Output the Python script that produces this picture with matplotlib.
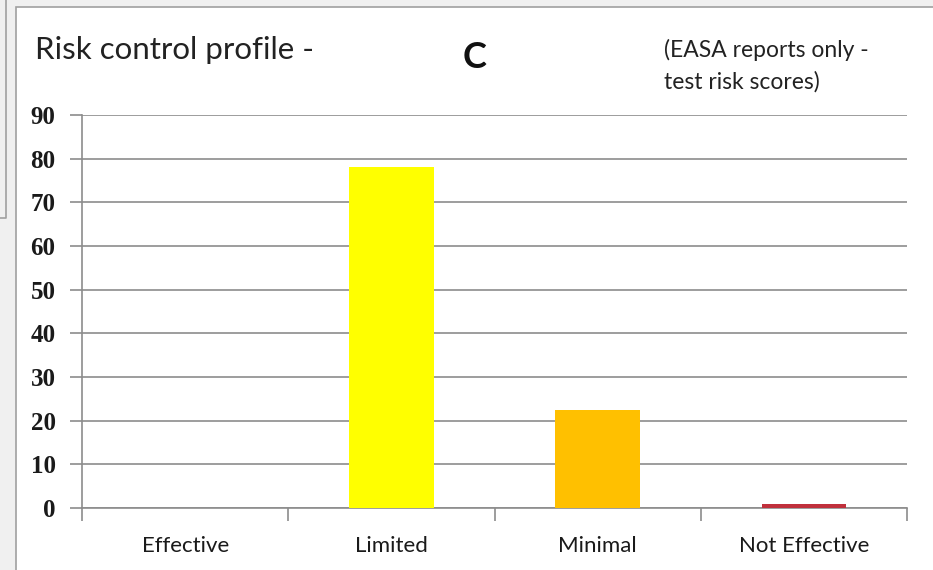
import matplotlib
matplotlib.use("Agg")
import matplotlib.pyplot as plt
from matplotlib.patches import Rectangle

categories = ["Effective", "Limited", "Minimal", "Not Effective"]
scores = [0, 78, 22.5, 1]
bar_colors = ["#4f81bd", "#ffff00", "#ffc000", "#c0303c"]
y_ticks = [0, 10, 20, 30, 40, 50, 60, 70, 80, 90]

W, H = 933, 570
fig = plt.figure(figsize=(W / 100, H / 100), dpi=100)
fig.patch.set_facecolor("#f0f0f0")

def fx(px):
    return px / W

def fy(py):
    return 1 - py / H

# background layer: white chart frame and the edge of the panel to its left
bg = fig.add_axes([0, 0, 1, 1], zorder=0)
bg.set_xlim(0, W)
bg.set_ylim(H, 0)
bg.axis("off")
bg.add_patch(Rectangle((16, 7), W, H, facecolor="white", edgecolor="#a0a0a0",
                       linewidth=1.2))
bg.plot([6, 6, 0], [0, 218, 218], color="#a0a0a0", linewidth=1.2)

ax = fig.add_axes([fx(82), fy(508), fx(907) - fx(82), fy(115) - fy(508)], zorder=2)
ax.set_facecolor("none")

x = range(len(categories))
ax.bar(x, scores, width=0.41, color=bar_colors, zorder=3)

ax.set_xlim(-0.5, len(categories) - 0.5)
ax.set_ylim(0, 90)
ax.set_yticks(y_ticks)
ax.yaxis.grid(True, color="#8c8c8c", linewidth=1.2, zorder=1)
ax.set_axisbelow(True)

ax.set_xticks([i + 0.5 for i in range(-1, len(categories))], minor=False)
ax.set_xticklabels([])
ax.set_xticks(list(x), minor=True)
ax.set_xticklabels(categories, minor=True, fontsize=16, fontfamily="Lato",
                   color="#1a1a1a")
ax.tick_params(axis="x", which="major", length=9, color="#8c8c8c", width=1.2)
ax.tick_params(axis="x", which="minor", length=0, pad=20)
ax.tick_params(axis="y", length=9, color="#8c8c8c", width=1.2, pad=10)
for lbl in ax.get_yticklabels():
    lbl.set_fontfamily("Liberation Serif")
    lbl.set_fontweight("bold")
    lbl.set_fontsize(18)
    lbl.set_color("#1a1a1a")

for side in ["top", "right"]:
    ax.spines[side].set_visible(False)
for side in ["left", "bottom"]:
    ax.spines[side].set_color("#8c8c8c")
    ax.spines[side].set_linewidth(1.2)

fig.text(fx(35), fy(59), "Risk control profile -", fontsize=22.5, fontfamily="Lato",
         color="#222222", va="baseline")
fig.text(fx(475), fy(68), "C", fontsize=26, fontfamily="Lato", fontweight="bold",
         color="#111111", va="baseline", ha="center")
fig.text(fx(664), fy(57), "(EASA reports only -", fontsize=16.5, fontfamily="Lato",
         color="#222222", va="baseline")
fig.text(fx(664), fy(89), "test risk scores)", fontsize=16.5, fontfamily="Lato",
         color="#222222", va="baseline")

fig.savefig("out.png", dpi=100, facecolor=fig.get_facecolor())
